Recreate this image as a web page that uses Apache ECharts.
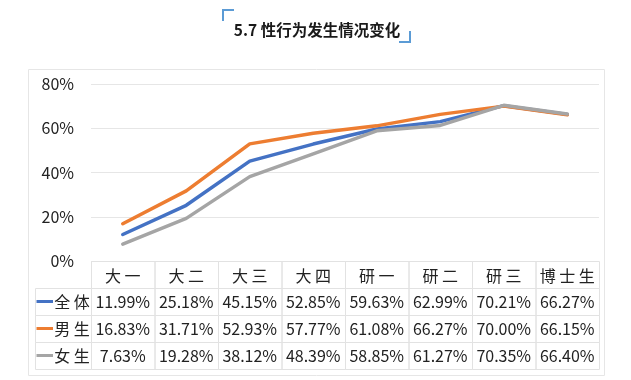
<!DOCTYPE html>
<html>
<head>
<meta charset="utf-8">
<script src="https://cdn.jsdelivr.net/npm/echarts@6/dist/echarts.min.js"></script>
<style>
html,body{margin:0;padding:0;background:#fff;}
#c{width:631px;height:380px;}
</style>
</head>
<body>
<div id="c"></div>
<script>
var titleText = '5.7 性行为发生情况变化';
var categories = ['大一', '大二', '大三', '大四', '研一', '研二', '研三', '博士生'];
var seriesNames = ['全体', '男生', '女生'];
var allValues = [11.99, 25.18, 45.15, 52.85, 59.63, 62.99, 70.21, 66.27];
var maleValues = [16.83, 31.71, 52.93, 57.77, 61.08, 66.27, 70.00, 66.15];
var femaleValues = [7.63, 19.28, 38.12, 48.39, 58.85, 61.27, 70.35, 66.40];
var yTicks = [0, 20, 40, 60, 80];
var colors = ['#4472C4', '#ED7D31', '#A5A5A5'];

var seriesValues = [allValues, maleValues, femaleValues];
var FONT = '"Noto Sans CJK SC", "Noto Sans", sans-serif';
var LABEL_W = 56 / 63.5; // legend column width in category units

// table cells: [x0, row, x1, text, kind]
var cells = [];
categories.forEach(function (c, i) { cells.push([i, 0, i + 1, c, 'head']); });
seriesValues.forEach(function (vals, s) {
  cells.push([-LABEL_W, s + 1, 0, seriesNames[s], 'legend', s]);
  vals.forEach(function (v, i) { cells.push([i, s + 1, i + 1, v.toFixed(2) + '%', 'val']); });
});

var chart = echarts.init(document.getElementById('c'), null, {renderer: 'canvas'});

var lineSeries = seriesNames.map(function (n, s) {
  return {
    name: n, type: 'line', xAxisIndex: 0, yAxisIndex: 0,
    data: seriesValues[s], symbol: 'none', smooth: false,
    lineStyle: {color: colors[s], width: 3.5, cap: 'round', join: 'round'},
    itemStyle: {color: colors[s]}, z: 3 + s
  };
});

var tableSeries = {
  type: 'custom', xAxisIndex: 1, yAxisIndex: 1, clip: false,
  data: cells.map(function (c) { return [c[0], c[1], c[2]]; }),
  renderItem: function (params, api) {
    var cell = cells[params.dataIndex];
    var p0 = api.coord([cell[0], cell[1]]);
    var p1 = api.coord([cell[2], cell[1] + 1]);
    var x = p0[0], y = p0[1], w = p1[0] - p0[0], h = p1[1] - p0[1];
    var children = [{
      type: 'rect', shape: {x: x + 0.5, y: Math.round(y) + 0.5, width: w, height: h},
      style: {fill: null, stroke: '#e2e2e2', lineWidth: 1}
    }];
    if (cell[4] === 'legend') {
      children.push({
        type: 'line', shape: {x1: x + 1.5, y1: y + h / 2, x2: x + 18, y2: y + h / 2},
        style: {stroke: colors[cell[5]], lineWidth: 3}
      });
      children.push({
        type: 'text', x: x + 37, y: y + h / 2,
        style: {text: cell[3].split('').join(' '), font: '16px ' + FONT, fill: '#222', align: 'center', verticalAlign: 'middle'}
      });
    } else {
      children.push({
        type: 'text', x: x + w / 2, y: y + h / 2 + (cell[4] === 'head' ? 1 : 0),
        style: {text: cell[4] === 'head' ? cell[3].split('').join(' ') : cell[3],
                font: '16px ' + FONT, fill: '#222', align: 'center', verticalAlign: 'middle'}
      });
    }
    return {type: 'group', children: children};
  },
  z: 10
};

chart.setOption({
  animation: false,
  backgroundColor: '#fff',
  title: {
    text: titleText, left: 312, top: 17, textAlign: 'center',
    textStyle: {fontFamily: FONT, fontSize: 15.5, fontWeight: 'bold', color: '#1a1a1a'}
  },
  graphic: [
    {type: 'rect', shape: {x: 28.5, y: 69.5, width: 576, height: 306}, style: {fill: null, stroke: '#e6e6e6', lineWidth: 1}, z: -1},
    {type: 'polyline', shape: {points: [[223, 21], [223, 10], [234, 10]]}, style: {stroke: '#5B9BD5', lineWidth: 2, fill: null}},
    {type: 'polyline', shape: {points: [[399, 42], [410, 42], [410, 31]]}, style: {stroke: '#5B9BD5', lineWidth: 2, fill: null}}
  ],
  grid: [
    {left: 91, right: 32, top: 84, bottom: 119},
    {left: 35, right: 32, top: 261, bottom: 11}
  ],
  xAxis: [
    {type: 'category', gridIndex: 0, data: categories, boundaryGap: true,
     axisLine: {show: false}, axisTick: {show: false}, axisLabel: {show: false}, splitLine: {show: false}},
    {type: 'value', gridIndex: 1, min: -LABEL_W, max: 8, show: false}
  ],
  yAxis: [
    {type: 'value', gridIndex: 0, min: yTicks[0], max: yTicks[yTicks.length - 1], interval: yTicks[1] - yTicks[0],
     axisLine: {show: false}, axisTick: {show: false},
     axisLabel: {formatter: '{value}%', fontFamily: FONT, fontSize: 16, color: '#222', margin: 17},
     splitLine: {lineStyle: {color: '#e6e6e6', width: 1}}},
    {type: 'value', gridIndex: 1, min: 0, max: 4, inverse: true, show: false}
  ],
  series: lineSeries.concat([tableSeries])
});
</script>
</body>
</html>
